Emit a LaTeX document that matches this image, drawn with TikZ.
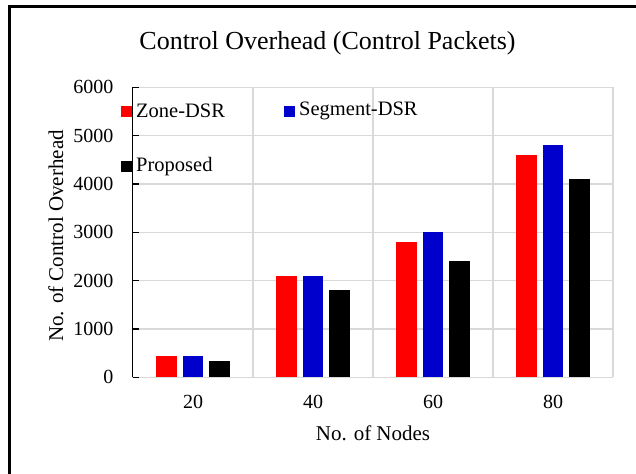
\documentclass[tikz,border=0pt]{standalone}
\usepackage{fontspec}
\setmainfont{Liberation Serif}
\definecolor{gridgray}{HTML}{D9D9D9}
\definecolor{zonered}{HTML}{FF0000}
\definecolor{segblue}{HTML}{0000CC}
\tikzset{
  gridline/.style={draw=gridgray, line width=1.4pt},
  ticklabel/.style={font=\fontsize{20}{24}\selectfont, inner sep=0pt},
  axistitle/.style={font=\fontsize{21}{25}\selectfont, inner sep=0pt},
  legendtext/.style={font=\fontsize{20.5}{24}\selectfont, inner sep=0pt, anchor=west},
  swatch/.style={minimum size=11pt, inner sep=0pt, draw=none},
  bar/.style={draw=none}
}
\begin{document}
\begin{tikzpicture}[x=1pt, y=-1pt]
  \useasboundingbox (0,0) rectangle (636,473);
  \fill[white] (0,0) rectangle (636,473);
  % frame of the chart area (right and bottom edges fall outside the page)
  \draw[line width=3.2pt] (9.5,6.3) rectangle (660,500);

  % title
  \node[font=\fontsize{26}{30}\selectfont, inner sep=0pt] (title) at (327.5,43) {Control Overhead (Control Packets)};

  % horizontal gridlines and y labels; value v sits at 377.3 - 0.04833 v
  \foreach \v/\name in {1/a,2/b,3/c,4/d,5/e,6/f} {
    \draw[gridline] (133,{377.3-48.33*\v}) -- (613,{377.3-48.33*\v});
  }
  % vertical category separators
  \foreach \xx in {253,373,493,613} {
    \draw[gridline] (\xx,87.3) -- (\xx,377.3);
  }
  % x axis
  \draw[gridline] (131.5,377.3) -- (613,377.3);

  % bars: red, blue, black per node count
  \newcommand{\bartrio}[4]{%
    \fill[zonered] ({#1-26.7-10.25},377.3) rectangle ({#1-26.7+10.25},{377.3-0.04833*#2});
    \fill[segblue] ({#1-10.25},377.3) rectangle ({#1+10.25},{377.3-0.04833*#3});
    \fill[black]   ({#1+26.7-10.25},377.3) rectangle ({#1+26.7+10.25},{377.3-0.04833*#4});
  }
  \bartrio{193}{450}{450}{340}
  \bartrio{313}{2100}{2100}{1800}
  \bartrio{433}{2800}{3000}{2400}
  \bartrio{553}{4600}{4800}{4100}

  % y axis with inward ticks
  \draw[line width=1.3pt] (132.7,87.3) -- (132.7,377.3);
  \foreach \v in {0,1,2,3,4,5,6} {
    \draw[line width=1.1pt] (132.7,{377.3-48.33*\v}) -- (139,{377.3-48.33*\v});
  }

  % y tick labels
  \foreach \v/\lab in {0/0,1/1000,2/2000,3/3000,4/4000,5/5000,6/6000} {
    \node[ticklabel, anchor=east] (ylab\v) at (113.5,{377.3-48.33*\v}) {\lab};
  }
  % x tick labels
  \node[ticklabel] (x20) at (193,401.5) {20};
  \node[ticklabel] (x40) at (313,401.5) {40};
  \node[ticklabel] (x60) at (433,401.5) {60};
  \node[ticklabel] (x80) at (553,401.5) {80};

  % axis titles
  \node[axistitle] (xtitle) at (373,433) {No. of Nodes};
  \node[axistitle, rotate=90] (ytitle) at (56,236) {No. of Control Overhead};

  % legend
  \node[swatch, fill=zonered] (kz) at (126.5,111.3) {};
  \node[legendtext] (lz) at (136,111.3) {Zone-DSR};
  \node[swatch, fill=segblue] (ks) at (289.7,111.3) {};
  \node[legendtext] (ls) at (299,111.3) {Segment-DSR};
  \node[swatch, fill=black] (kp) at (126.5,166.3) {};
  \node[legendtext] (lp) at (136,166.3) {Proposed};
\end{tikzpicture}
\end{document}
